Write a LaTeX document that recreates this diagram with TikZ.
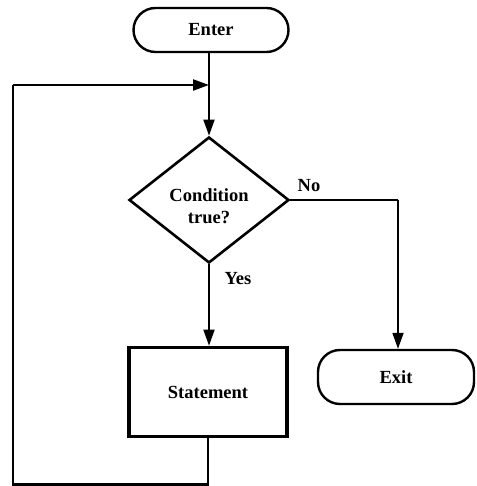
\documentclass[tikz,border=0pt]{standalone}
\usepackage{fontspec}
\setmainfont{Liberation Serif}
\usetikzlibrary{shapes.geometric,arrows.meta}
\begin{document}
\begin{tikzpicture}[x=1pt,y=1pt,
  font=\fontsize{18.5}{21}\selectfont\bfseries,
  terminal/.style={draw,line width=2.4pt,rounded corners=22pt,inner sep=0pt},
  decision/.style={draw,diamond,line width=2.6pt,inner sep=0pt,minimum width=160pt,minimum height=126pt},
  process/.style={draw,rectangle,line width=3.6pt,inner sep=0pt,minimum width=158pt,minimum height=89pt},
  flow/.style={line width=1.8pt},
  arr/.style={flow,-{Triangle[length=16pt,width=11pt]}},
  lbl/.style={inner sep=0pt}]
\useasboundingbox (0,0) rectangle (476,486);

% blocks
\node[terminal,minimum width=155pt,minimum height=44pt] (enter) at (211,456) {Enter};
\node[decision] (cond) at (209,286) {};
\node[lbl,align=center] (condtext) at (209,280) {Condition\\[1pt]true?};
\node[process] (stmt) at (208,94) {Statement};
\node[terminal,minimum width=156pt,minimum height=54pt] (exit) at (396,109) {Exit};

% routing points
\coordinate (merge) at (209,401);
\coordinate (noturn) at (398,286);
\coordinate (bottom) at (208,1.5);
\coordinate (botleft) at (13,1.5);
\coordinate (topleft) at (13,401);

% connectors
\draw[flow] (enter.south -| merge) -- (merge);
\draw[arr] (merge) -- (cond.north);
\draw[arr] (cond.south) -- (stmt.north -| cond.south);
\draw[flow] (cond.east) -- (noturn);
\draw[arr] (noturn) -- (exit.north -| noturn);
\draw[flow,line width=2.2pt] (stmt.south) -- (bottom) -- (botleft) -- (topleft);
\draw[arr,line width=2.2pt] (topleft) -- (merge);

% branch labels
\node[lbl] (nolbl) at (309,300) {No};
\node[lbl] (yeslbl) at (238,207) {Yes};
\end{tikzpicture}
\end{document}
